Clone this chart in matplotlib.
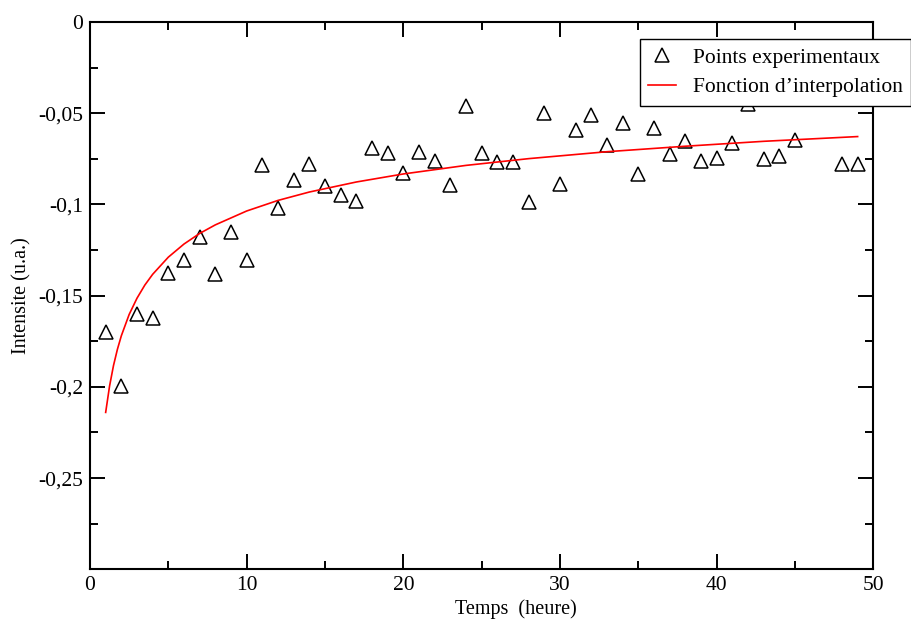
import numpy as np
import matplotlib
matplotlib.use("Agg")
import matplotlib.pyplot as plt
from matplotlib.ticker import MultipleLocator, FixedLocator

plt.rcParams['font.family'] = ['Liberation Serif', 'DejaVu Serif']

# experimental points (hours, intensity)
temps = [1, 2, 3, 4, 5, 6, 7, 8, 9, 10, 11, 12, 13, 14, 15, 16, 17, 18, 19, 20,
         21, 22, 23, 24, 25, 26, 27, 28, 29, 30, 31, 32, 33, 34, 35, 36, 37, 38,
         39, 40, 41, 42, 43, 44, 45, 48, 49]
intensite = [-0.170, -0.1997, -0.1603, -0.1623, -0.1376, -0.1303, -0.118, -0.1384,
             -0.1152, -0.1303, -0.0783, -0.102, -0.0867, -0.078, -0.0898, -0.0946,
             -0.0982, -0.0688, -0.0717, -0.0829, -0.0712, -0.076, -0.0896, -0.046,
             -0.0719, -0.0767, -0.0768, -0.0987, -0.0497, -0.0887, -0.0591, -0.0511,
             -0.0672, -0.0551, -0.0834, -0.0582, -0.0721, -0.0653, -0.076, -0.0748,
             -0.0664, -0.0447, -0.075, -0.0736, -0.0648, -0.0779, -0.0779]

# fitted curve, values
fit_t = [1, 1.25, 1.5, 1.75, 2, 2.5, 3, 3.5, 4, 5, 6, 7, 8, 10, 12, 14, 17, 20,
         24, 28, 33, 38, 43, 49]
fit_i = [-0.2140, -0.1995, -0.1883, -0.1794, -0.1720, -0.1603, -0.1514, -0.1442,
         -0.1383, -0.1289, -0.1217, -0.1159, -0.1112, -0.1036, -0.0978, -0.0932,
         -0.0877, -0.0833, -0.0786, -0.0749, -0.0711, -0.0681, -0.0654, -0.0628]

yticks = [0, -0.05, -0.1, -0.15, -0.2, -0.25]
ylabels = ["0", "-0,05", "-0,1", "-0,15", "-0,2", "-0,25"]

fig = plt.figure(figsize=(9.12, 6.19), dpi=100)
ax = fig.add_axes([90/912, 1-569.3/619, (873.3-90)/912, (569.3-22)/619])

ax.plot(temps, intensite, linestyle='none', marker='^', ms=9.5, mfc='none',
        mec='black', mew=1.1, label='Points experimentaux')
ax.plot(fit_t, fit_i, color='red', lw=1.2, label="Fonction d\u2019interpolation")

ax.set_xlim(0, 50)
ax.set_ylim(-0.3, 0)
ax.xaxis.set_major_locator(MultipleLocator(10))
ax.xaxis.set_minor_locator(MultipleLocator(5))
ax.yaxis.set_major_locator(FixedLocator(yticks))
ax.set_yticklabels(ylabels)
ax.yaxis.set_minor_locator(MultipleLocator(0.025))

ax.tick_params(which='both', direction='in', top=True, right=True, width=1.4,
               labelsize=15.5)
ax.tick_params(which='major', length=11, pad=5)
ax.tick_params(which='minor', length=6)
for s in ax.spines.values():
    s.set_linewidth(1.5)

ax.set_xlabel('Temps  (heure)', fontsize=14.5)
ax.xaxis.set_label_coords(0.544, -0.055)
ax.set_ylabel('Intensite (u.a.)', fontsize=14.5)
ax.yaxis.set_label_coords(-0.075, 0.5)

leg = ax.legend(loc='upper right', bbox_to_anchor=(911/912, 1-39/619),
                bbox_transform=fig.transFigure, borderaxespad=0, fancybox=False,
                edgecolor='black', framealpha=1, fontsize=15.5, handlelength=1.3,
                handletextpad=0.75, borderpad=0.4, labelspacing=0.45)
leg.get_frame().set_linewidth(1.0)

fig.savefig('out.png', dpi=100)
